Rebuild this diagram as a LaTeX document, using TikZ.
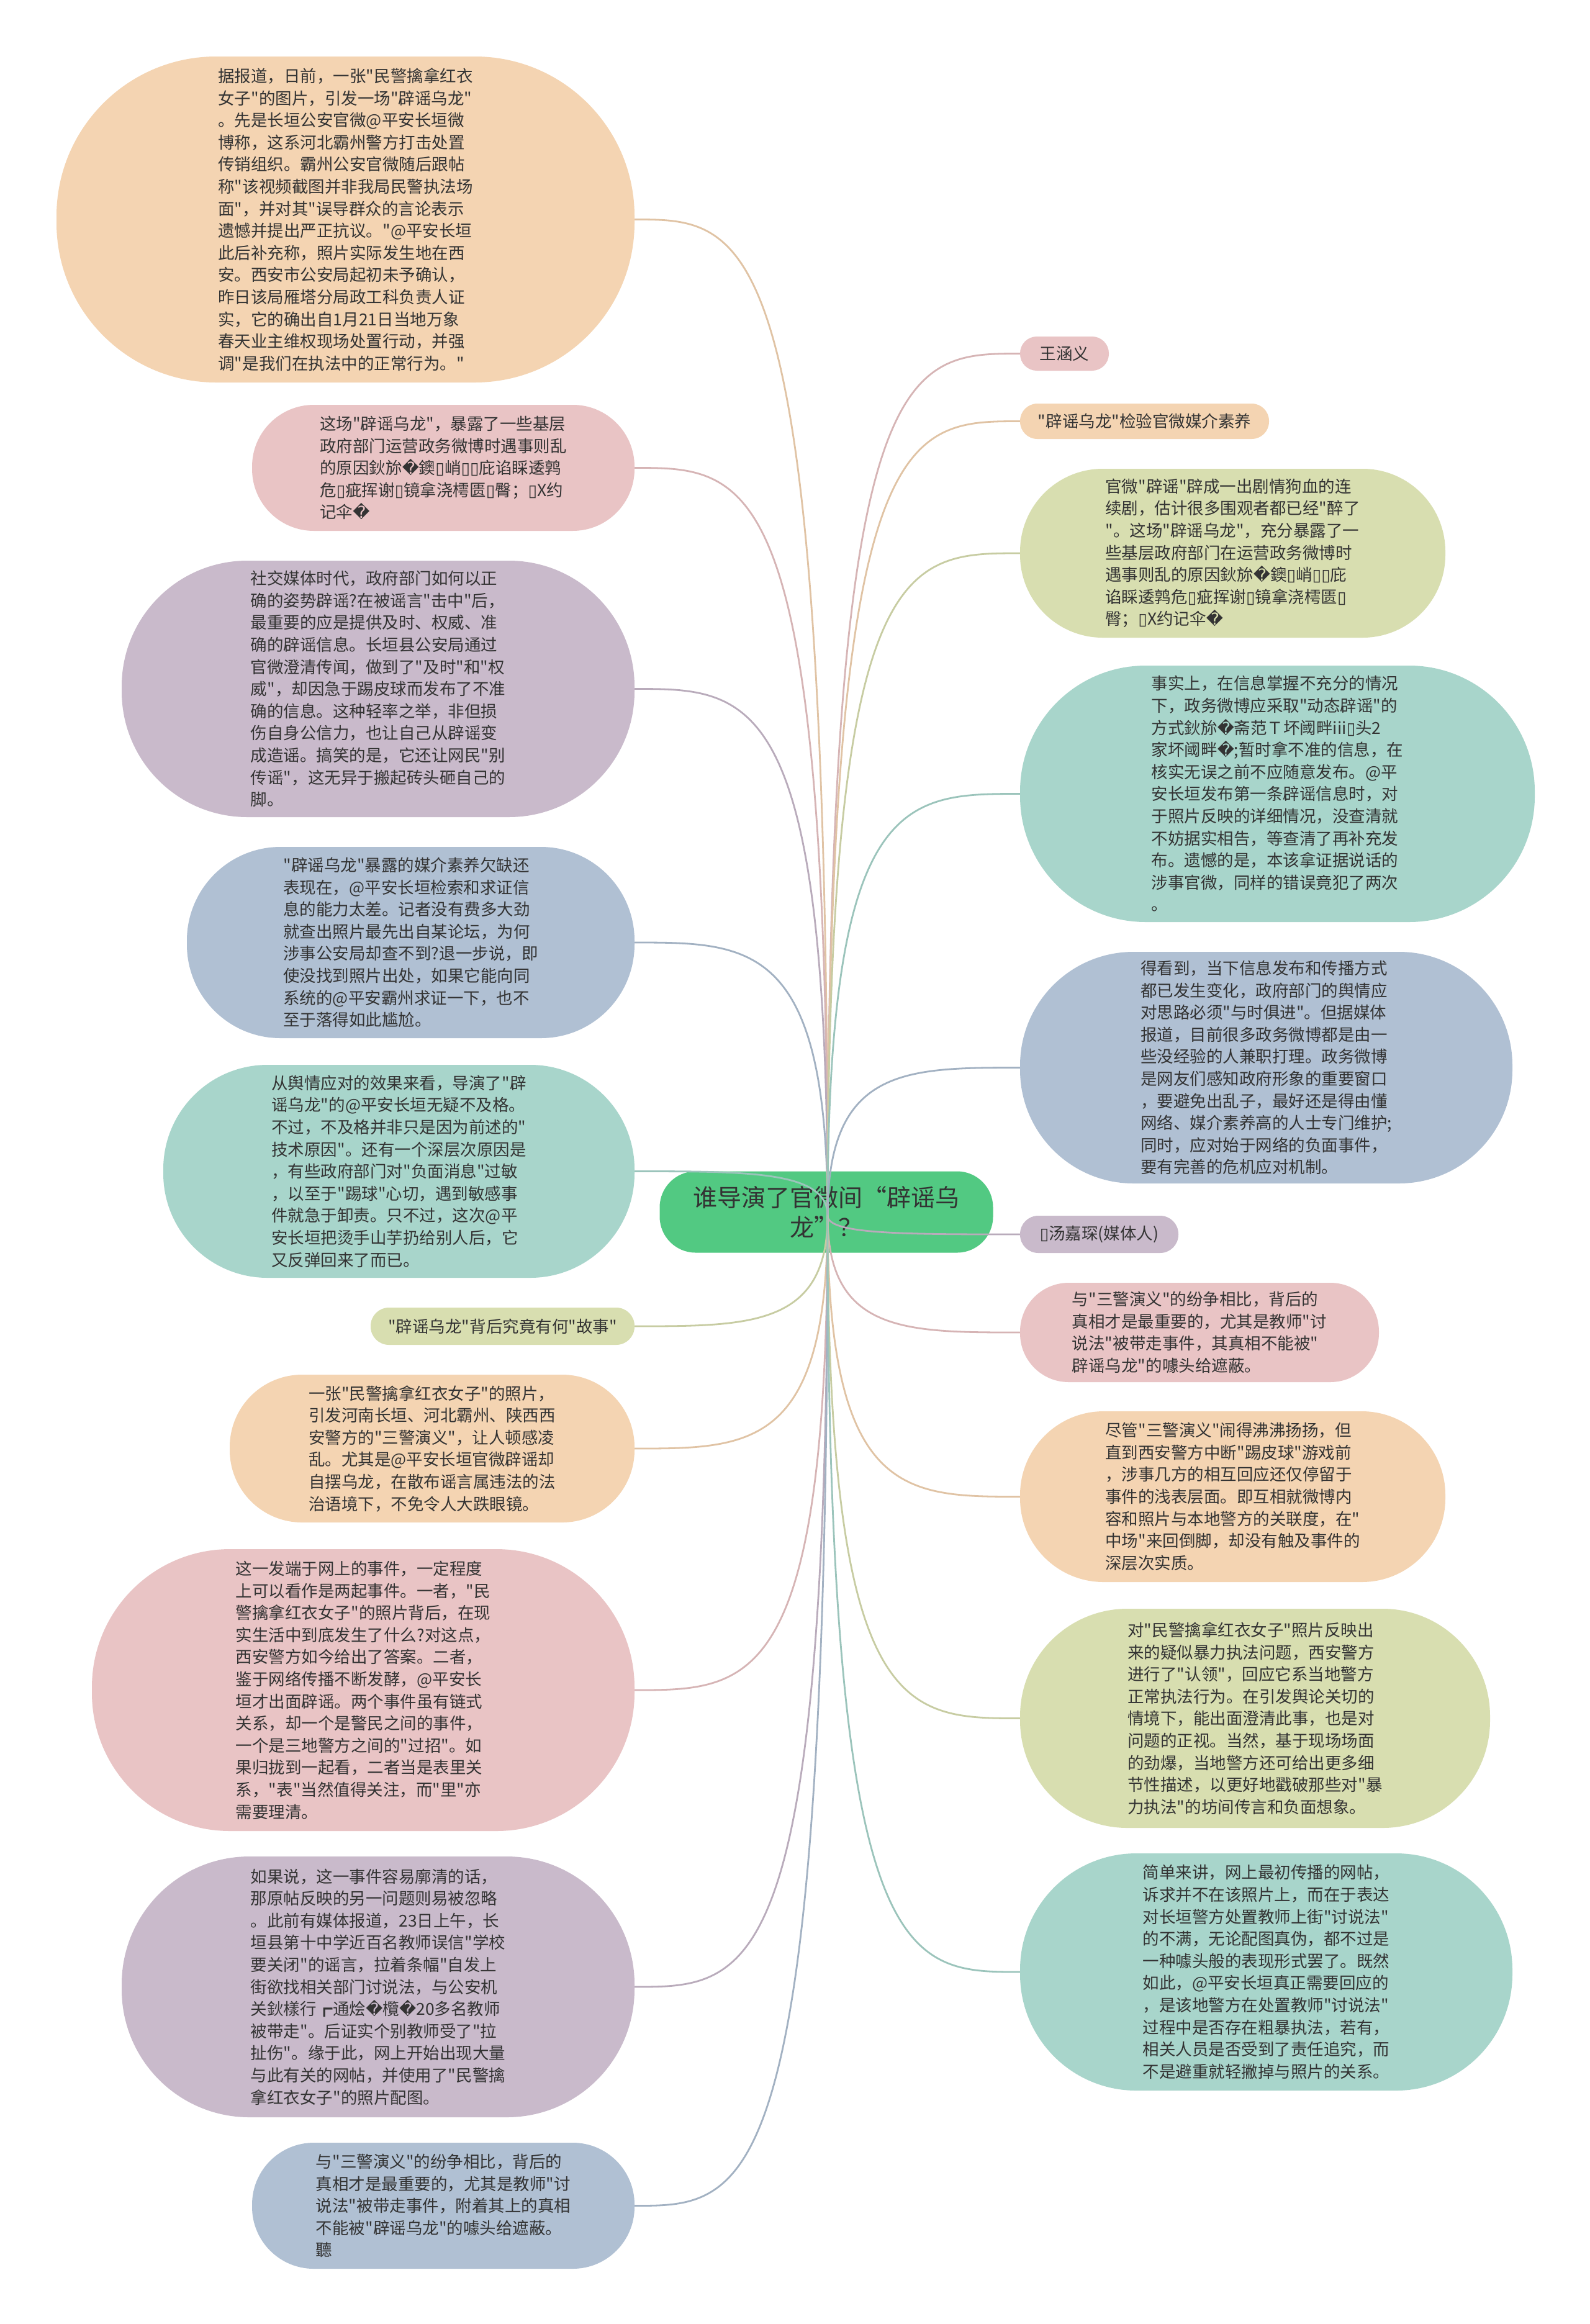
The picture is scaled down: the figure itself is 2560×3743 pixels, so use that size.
\documentclass[tikz,border=0pt]{standalone}
\usepackage{fontspec}
\newfontfamily\cjk{Noto Sans CJK SC}
\newfontfamily\dejavu{DejaVu Sans}
\newcommand\rep{{\dejavu\symbol{"FFFD}}}
\newcommand\tofu{{\dejavu\symbol{"25AF}}}
\usetikzlibrary{calc}
\pgfdeclarelayer{bottom}
\pgfdeclarelayer{mid}
\pgfsetlayers{bottom,mid,main}
\definecolor{peach}{HTML}{F4D4B2}
\definecolor{pink}{HTML}{E9C4C5}
\definecolor{purple}{HTML}{C9BACB}
\definecolor{bluegray}{HTML}{B0C0D3}
\definecolor{teal}{HTML}{A8D5CB}
\definecolor{olive}{HTML}{D8DEB0}
\definecolor{cgreen}{HTML}{52C982}
\definecolor{ink}{HTML}{333333}
\tikzset{
  txt/.style={font=\cjk\fontsize{13.25pt}{17.8pt}\selectfont, text=ink, align=left, inner sep=0pt},
  bub/.style n args={3}{txt, fill=#1, minimum width=#2*0.5pt, minimum height=#3*0.5pt, rounded corners=#3*0.245pt},
  conn/.style={line width=1.4pt, line cap=round}
}
\begin{document}
\begin{tikzpicture}[x=0.5pt,y=-0.5pt]
\useasboundingbox (0,0) rectangle (2560,3743);
\coordinate (hub) at (1333,1958);

\begin{pgfonlayer}{bottom}
\fill[white] (0,0) rectangle (2560,3743);
\node[fill=cgreen, font=\cjk\fontsize{19.5pt}{24pt}\selectfont, text=ink, align=center,
  minimum width=268.5pt, minimum height=65.5pt, rounded corners=29pt, inner sep=0pt]
  (C) at (1331,1952) {谁导演了官微间“辟谣乌\\龙”？};
\end{pgfonlayer}

% ---------------- left side ----------------
\node[bub={peach}{931}{525}] (L1) at (556.5,353.5) {据报道，日前，一张"民警擒拿红衣\\
女子"的图片，引发一场"辟谣乌龙"\\
。先是长垣公安官微@平安长垣微\\
博称，这系河北霸州警方打击处置\\
传销组织。霸州公安官微随后跟帖\\
称"该视频截图并非我局民警执法场\\
面"，并对其"误导群众的言论表示\\
遗憾并提出严正抗议。"@平安长垣\\
此后补充称，照片实际发生地在西\\
安。西安市公安局起初未予确认，\\
昨日该局雁塔分局政工科负责人证\\
实，它的确出自1月21日当地万象\\
春天业主维权现场处置行动，并强\\
调"是我们在执法中的正常行为。"};

\node[bub={pink}{616}{203}] (L2) at (714,753.5) {这场"辟谣乌龙"，暴露了一些基层\\
政府部门运营政务微博时遇事则乱\\
的原因鈥旀\rep 鐭\tofu 峭\tofu\tofu 庇谄睬逶鹑\\
危\tofu 疵挥谢\tofu 镜拿浇樗匮\tofu 臀；\tofu X约\\
记伞\rep};

\node[bub={purple}{826}{413}] (L3) at (609,1109.5) {社交媒体时代，政府部门如何以正\\
确的姿势辟谣?在被谣言"击中"后，\\
最重要的应是提供及时、权威、准\\
确的辟谣信息。长垣县公安局通过\\
官微澄清传闻，做到了"及时"和"权\\
威"，却因急于踢皮球而发布了不准\\
确的信息。这种轻率之举，非但损\\
伤自身公信力，也让自己从辟谣变\\
成造谣。搞笑的是，它还让网民"别\\
传谣"，这无异于搬起砖头砸自己的\\
脚。};

\node[bub={bluegray}{721}{308}] (L4) at (661.5,1518) {"辟谣乌龙"暴露的媒介素养欠缺还\\
表现在，@平安长垣检索和求证信\\
息的能力太差。记者没有费多大劲\\
就查出照片最先出自某论坛，为何\\
涉事公安局却查不到?退一步说，即\\
使没找到照片出处，如果它能向同\\
系统的@平安霸州求证一下，也不\\
至于落得如此尴尬。};

\node[bub={teal}{759}{343}] (L5) at (642.5,1886.5) {从舆情应对的效果来看，导演了"辟\\
谣乌龙"的@平安长垣无疑不及格。\\
不过，不及格并非只是因为前述的"\\
技术原因"。还有一个深层次原因是\\
，有些政府部门对"负面消息"过敏\\
，以至于"踢球"心切，遇到敏感事\\
件就急于卸责。只不过，这次@平\\
安长垣把烫手山芋扔给别人后，它\\
又反弹回来了而已。};

\node[bub={olive}{425}{60}] (L6) at (809.5,2136) {"辟谣乌龙"背后究竟有何"故事"};

\node[bub={peach}{652}{238}] (L7) at (696,2333) {一张"民警擒拿红衣女子"的照片，\\
引发河南长垣、河北霸州、陕西西\\
安警方的"三警演义"，让人顿感凌\\
乱。尤其是@平安长垣官微辟谣却\\
自摆乌龙，在散布谣言属违法的法\\
治语境下，不免令人大跌眼镜。};

\node[bub={pink}{874}{454}] (L8) at (585,2722) {这一发端于网上的事件，一定程度\\
上可以看作是两起事件。一者，"民\\
警擒拿红衣女子"的照片背后，在现\\
实生活中到底发生了什么?对这点，\\
西安警方如今给出了答案。二者，\\
鉴于网络传播不断发酵，@平安长\\
垣才出面辟谣。两个事件虽有链式\\
关系，却一个是警民之间的事件，\\
一个是三地警方之间的"过招"。如\\
果归拢到一起看，二者当是表里关\\
系，"表"当然值得关注，而"里"亦\\
需要理清。};

\node[bub={purple}{826}{420}] (L9) at (609,3200) {如果说，这一事件容易廓清的话，\\
那原帖反映的另一问题则易被忽略\\
。此前有媒体报道，23日上午，长\\
垣县第十中学近百名教师误信"学校\\
要关闭"的谣言，拉着条幅"自发上\\
街欲找相关部门讨说法，与公安机\\
关鈥樣行┏通烩\rep 欖\rep 20多名教师\\
被带走"。后证实个别教师受了"拉\\
扯伤"。缘于此，网上开始出现大量\\
与此有关的网帖，并使用了"民警擒\\
拿红衣女子"的照片配图。};

\node[bub={bluegray}{616}{203}] (L10) at (714,3552.5) {与"三警演义"的纷争相比，背后的\\
真相才是最重要的，尤其是教师"讨\\
说法"被带走事件，附着其上的真相\\
不能被"辟谣乌龙"的噱头给遮蔽。\\
聽};

% ---------------- right side ----------------
\node[bub={pink}{143}{55}] (R1) at (1714.5,569.5) {王涵义};

\node[bub={peach}{401}{57}] (R2) at (1843.5,678.5) {"辟谣乌龙"检验官微媒介素养};

\node[bub={olive}{685}{272}] (R3) at (1985.5,891) {官微"辟谣"辟成一出剧情狗血的连\\
续剧，估计很多围观者都已经"醉了\\
"。这场"辟谣乌龙"，充分暴露了一\\
些基层政府部门在运营政务微博时\\
遇事则乱的原因鈥旀\rep 鐭\tofu 峭\tofu\tofu 庇\\
谄睬逶鹑危\tofu 疵挥谢\tofu 镜拿浇樗匮\tofu\\
臀；\tofu X约记伞\rep};

\node[bub={teal}{829}{413}] (R4) at (2057.5,1278.5) {事实上，在信息掌握不充分的情况\\
下，政务微博应采取"动态辟谣"的\\
方式鈥旀\rep 斋范Ｔ坏阈畔iii\tofu 头2\\
家坏阈畔\rep;暂时拿不准的信息，在\\
核实无误之前不应随意发布。@平\\
安长垣发布第一条辟谣信息时，对\\
于照片反映的详细情况，没查清就\\
不妨据实相告，等查清了再补充发\\
布。遗憾的是，本该拿证据说话的\\
涉事官微，同样的错误竟犯了两次\\
。};

\node[bub={bluegray}{793}{373}] (R5) at (2039.5,1719.5) {得看到，当下信息发布和传播方式\\
都已发生变化，政府部门的舆情应\\
对思路必须"与时俱进"。但据媒体\\
报道，目前很多政务微博都是由一\\
些没经验的人兼职打理。政务微博\\
是网友们感知政府形象的重要窗口\\
，要避免出乱子，最好还是得由懂\\
网络、媒介素养高的人士专门维护;\\
同时，应对始于网络的负面事件，\\
要有完善的危机应对机制。};

\node[bub={purple}{255}{60}] (R6) at (1770.5,1988) {\tofu 汤嘉琛(媒体人)};

\node[bub={pink}{578}{160}] (R7) at (1932,2146) {与"三警演义"的纷争相比，背后的\\
真相才是最重要的，尤其是教师"讨\\
说法"被带走事件，其真相不能被"\\
辟谣乌龙"的噱头给遮蔽。};

\node[bub={peach}{685}{275}] (R8) at (1985.5,2410.5) {尽管"三警演义"闹得沸沸扬扬，但\\
直到西安警方中断"踢皮球"游戏前\\
，涉事几方的相互回应还仅停留于\\
事件的浅表层面。即互相就微博内\\
容和照片与本地警方的关联度，在"\\
中场"来回倒脚，却没有触及事件的\\
深层次实质。};

\node[bub={olive}{757}{353}] (R9) at (2021.5,2767.5) {对"民警擒拿红衣女子"照片反映出\\
来的疑似暴力执法问题，西安警方\\
进行了"认领"，回应它系当地警方\\
正常执法行为。在引发舆论关切的\\
情境下，能出面澄清此事，也是对\\
问题的正视。当然，基于现场场面\\
的劲爆，当地警方还可给出更多细\\
节性描述，以更好地戳破那些对"暴\\
力执法"的坊间传言和负面想象。};

\node[bub={teal}{793}{382}] (R10) at (2039.5,3176) {简单来讲，网上最初传播的网帖，\\
诉求并不在该照片上，而在于表达\\
对长垣警方处置教师上街"讨说法"\\
的不满，无论配图真伪，都不过是\\
一种噱头般的表现形式罢了。既然\\
如此，@平安长垣真正需要回应的\\
，是该地警方在处置教师"讨说法"\\
过程中是否存在粗暴执法，若有，\\
相关人员是否受到了责任追究，而\\
不是避重就轻撇掉与照片的关系。};

% ---------------- connectors ----------------
\begin{pgfonlayer}{mid}
\foreach \n/\c/\a in {L1/peach/east, L2/pink/east, L3/purple/east, L4/bluegray/east,
  L5/teal/east, L6/olive/east, L7/peach/east, L8/pink/east, L9/purple/east, L10/bluegray/east,
  R1/pink/west, R2/peach/west, R3/olive/west, R4/teal/west, R5/bluegray/west,
  R6/purple/west, R7/pink/west, R8/peach/west, R9/olive/west, R10/teal/west}
  \draw[conn, draw=\c!92!black] (hub) .. controls (hub |- \n.\a) and ($(hub |- \n.\a)!0.4!(\n.\a)$) .. (\n.\a);
\end{pgfonlayer}
\end{tikzpicture}
\end{document}
